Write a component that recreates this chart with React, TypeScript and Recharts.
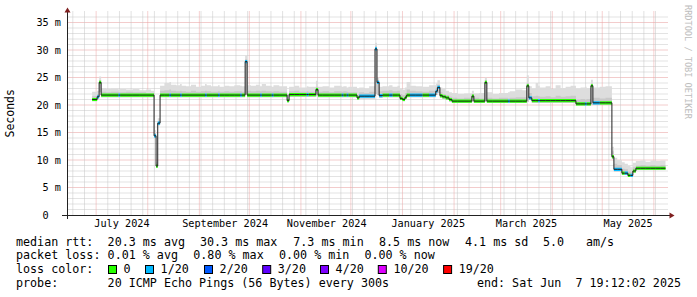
import {
  Area,
  CartesianGrid,
  ComposedChart,
  Line,
  XAxis,
  YAxis,
} from "recharts";

const MONO = "'DejaVu Sans Mono', monospace";

// time axis: days since 1 Jul 2024
const days = [
  -2.4, 0.6, 1.8, 3.0, 6, 9, 13.4, 14.4, 18, 22, 26, 30, 33,
  34.8, 36.0, 37.0, 38.4, 41, 44, 45, 48, 50.4, 51.4, 54, 57, 60, 63, 65.4, 66.4, 69, 73.2, 74.2, 77, 80, 83, 86.5, 87.5,
  89.5, 90.7, 93, 96, 98.5, 99.5, 102, 105.5, 106.5, 110,
  114.7, 115.9, 119, 122, 126.5, 127.5, 132.0, 133.3, 136, 140, 143, 147.5, 148.5, 150.5, 151.5,
  156.7, 158.0, 161, 164, 167.5, 168.7, 170.0, 172, 176, 178, 181, 182.5, 184, 185.5, 186.5, 188.5, 192, 196, 200,
  204, 205, 206.5, 208, 210, 212, 213.7, 217, 221, 225.7, 226.9, 230, 233.5, 234.7, 238, 242, 247.4, 248.4, 252, 256,
  258.7, 259.9, 261.7, 264, 265.5, 266.5, 270, 273, 276, 279, 282, 285,
  288.2, 291, 293.6, 294.6, 297.2, 298.4, 302.5, 306,
  309.8, 311, 313, 315.8, 317.5, 319.4, 321, 322.4, 324.2, 327, 330, 333, 336, 339, 342,
];

// median rtt (ms)
const median = [
  21.0, 21.5, 24.1, 21.8, 21.8, 21.8, 21.8, 21.8, 21.8, 21.8, 21.8, 21.8, 21.8,
  14.4, 8.9, 16.7, 21.8, 21.8, 21.8, 21.8, 21.8, 21.8, 21.8, 21.8, 21.8, 21.8, 21.8, 21.8, 21.8, 21.8, 21.8, 21.8, 21.8, 21.8, 21.8, 21.8, 21.8,
  27.9, 21.8, 21.8, 21.8, 21.8, 21.8, 21.8, 21.8, 21.8, 21.8,
  20.8, 21.9, 21.9, 21.9, 21.9, 21.9, 22.8, 21.8, 21.8, 21.8, 21.8, 21.8, 21.8, 21.8, 21.8,
  21.3, 21.6, 21.6, 21.6, 30.2, 24.1, 21.7, 21.8, 21.8, 21.8, 21.8, 21.2, 21.0, 21.4, 21.8, 21.8, 21.8, 21.8, 21.8,
  22.5, 23.2, 21.7, 21.5, 21.3, 21.0, 20.7, 20.7, 20.7, 21.6, 20.7, 20.7, 24.1, 20.7, 20.7, 20.7, 20.7, 20.7, 20.7, 20.7,
  23.5, 21.3, 20.8, 20.8, 20.8, 20.8, 20.8, 20.8, 20.8, 20.8, 20.8, 20.8,
  20.2, 20.2, 20.2, 20.2, 23.5, 20.4, 20.4, 20.4,
  10.6, 8.3, 8.3, 7.6, 7.6, 7.2, 7.2, 8.0, 8.5, 8.5, 8.5, 8.5, 8.5, 8.5, 8.5,
];

// loss colour index (0 = no loss, 1 = 1/20)
const loss = [
  0, 1, 0, 0, 0, 0, 1, 0, 0, 0, 0, 0, 0,
  1, 0, 1, 0, 0, 1, 0, 0, 1, 0, 0, 0, 0, 0, 1, 0, 0, 1, 0, 0, 0, 0, 1, 0,
  1, 0, 0, 0, 1, 0, 0, 1, 0, 0,
  0, 0, 0, 0, 1, 0, 0, 0, 0, 0, 0, 1, 0, 1, 0,
  0, 1, 1, 1, 1, 1, 1, 0, 1, 0, 0, 0, 0, 0, 0, 1, 1, 0, 1,
  1, 1, 0, 0, 0, 0, 0, 0, 0, 0, 0, 0, 0, 0, 0, 0, 1, 0, 0, 0,
  0, 1, 0, 0, 1, 0, 0, 0, 0, 0, 0, 0,
  0, 0, 1, 0, 0, 1, 0, 0,
  0, 1, 1, 0, 1, 0, 1, 0, 0, 0, 0, 0, 0, 0, 0,
];

// smoke: lowest ping, dense core top, highest ping (ms)
const smokeLow = [
  20.7, 21.1, 22.3, 21.4, 21.4, 21.4, 21.4, 21.4, 21.4, 21.4, 21.4, 21.4, 21.4,
  14.0, 8.6, 16.3, 21.4, 21.4, 21.4, 21.4, 21.4, 21.4, 21.4, 21.4, 21.4, 21.4, 21.4, 21.4, 21.4, 21.4, 21.4, 21.4, 21.4, 21.4, 21.4, 21.4, 21.4,
  22.0, 21.4, 21.4, 21.4, 21.4, 21.4, 21.4, 21.4, 21.4, 21.4,
  20.5, 21.5, 21.5, 21.5, 21.5, 21.5, 21.6, 21.4, 21.4, 21.4, 21.4, 21.4, 21.4, 21.4, 21.4,
  21.0, 21.2, 21.2, 21.2, 22.0, 21.8, 21.3, 21.4, 21.4, 21.4, 21.4, 20.9, 20.7, 21.1, 21.4, 21.4, 21.4, 21.4, 21.4,
  21.8, 22.2, 21.3, 21.1, 20.9, 20.6, 20.4, 20.4, 20.4, 20.6, 20.4, 20.4, 20.6, 20.4, 20.4, 20.4, 20.4, 20.4, 20.4, 20.4,
  20.6, 20.9, 20.4, 20.4, 20.4, 20.4, 20.4, 20.4, 20.4, 20.4, 20.4, 20.4,
  19.9, 19.9, 19.9, 19.9, 20.0, 20.0, 20.0, 20.0,
  10.2, 7.9, 7.9, 7.3, 7.3, 6.9, 6.9, 7.7, 8.2, 8.2, 8.2, 8.2, 8.2, 8.2, 8.2,
];

const smokeMid = [
  21.6, 22.0, 24.5, 22.4, 22.3, 22.4, 22.3, 22.3, 22.4, 22.3, 22.3, 22.2, 22.2,
  14.9, 9.2, 17.1, 22.6, 22.7, 22.8, 22.6, 22.5, 22.6, 22.5, 22.4, 22.6, 22.4, 22.5, 22.6, 22.5, 22.4, 22.5, 22.4, 22.5, 22.4, 22.5, 22.5, 22.4,
  28.3, 22.6, 22.5, 22.6, 22.5, 22.6, 22.5, 22.4, 22.5, 22.4,
  21.3, 22.5, 22.6, 22.4, 22.5, 22.4, 23.3, 22.4, 22.5, 22.3, 22.5, 22.4, 22.5, 22.4, 22.3,
  21.9, 22.3, 22.2, 22.4, 30.7, 24.5, 22.5, 22.6, 22.7, 22.5, 22.6, 22.0, 21.8, 22.2, 22.8, 22.6, 22.5, 22.4, 22.6,
  23.1, 23.7, 22.3, 22.0, 21.8, 21.5, 21.3, 21.2, 21.3, 22.0, 21.3, 21.2, 24.5, 21.3, 21.2, 21.3, 21.2, 21.3, 21.4, 21.4,
  24.0, 22.2, 21.6, 21.7, 21.6, 21.5, 21.6, 21.4, 21.7, 21.5, 21.6, 21.7,
  21.0, 21.1, 21.0, 21.1, 23.9, 21.3, 21.2, 21.3,
  11.6, 9.3, 9.1, 8.4, 8.3, 7.9, 7.8, 8.7, 9.0, 9.1, 9.0, 9.1, 9.0, 9.1, 9.0,
];

const smokeHigh = [
  22.4, 22.6, 25.2, 23.1, 22.9, 23.0, 22.8, 22.9, 22.8, 22.9, 22.7, 22.8, 22.6,
  15.4, 9.6, 17.6, 23.5, 24.0, 24.2, 23.7, 23.6, 23.8, 23.5, 23.4, 23.7, 23.3, 23.5, 23.8, 23.6, 23.4, 23.6, 23.3, 23.5, 23.4, 23.6, 23.5, 23.4,
  29.0, 23.6, 23.5, 23.7, 23.4, 23.8, 23.5, 23.3, 23.6, 23.4,
  22.0, 23.3, 23.5, 23.2, 23.4, 23.3, 24.4, 23.3, 23.4, 23.2, 23.5, 23.3, 23.4, 23.2, 23.3,
  23.0, 23.2, 23.0, 23.4, 31.3, 25.0, 23.3, 23.4, 23.6, 23.3, 23.5, 23.0, 22.8, 23.2, 24.2, 23.5, 23.4, 23.3, 23.6,
  23.9, 24.5, 23.2, 23.0, 22.6, 22.3, 22.2, 22.0, 22.1, 22.6, 22.1, 22.2, 25.0, 22.3, 22.0, 22.2, 22.3, 22.5, 22.8, 22.7,
  25.4, 23.4, 23.0, 24.0, 23.5, 23.2, 23.4, 22.9, 23.6, 23.1, 23.3, 23.5,
  23.0, 23.2, 23.3, 23.1, 24.6, 23.2, 23.3, 23.4,
  12.4, 10.4, 10.0, 9.6, 9.3, 8.9, 8.7, 9.5, 9.8, 9.9, 9.7, 9.9, 9.8, 9.9, 9.8,
];

const lossColors = ["#26ff00", "#00b8ff", "#0059ff", "#5e00ff", "#7e00ff", "#dd00ff", "#ff0000"];
const lossLabels = ["0", "1/20", "2/20", "3/20", "4/20", "10/20", "19/20"];

const monthStarts = [0, 31, 62, 92, 123, 153, 184, 215, 243, 274, 304, 335];
const labelDays = [15.5, 77.5, 138.5, 199.5, 258.5, 319.5];
const monthLabels = ["July 2024", "September 2024", "November 2024", "January 2025", "March 2025", "May 2025"];
const yLabelTicks = [0, 5, 10, 15, 20, 25, 30, 35];

const weekLines: number[] = [];
for (let d = -14; d <= 342; d += 7) if (!monthStarts.includes(d)) weekLines.push(d);
const msLines: number[] = [];
for (let v = 1; v <= 36; v++) if (v % 5 !== 0) msLines.push(v);

const W = 0.29; // half height of the loss colour band

const data = days.map((day, i) => {
  const m = median[i];
  const row: Record<string, unknown> = {
    day,
    median: m,
    smoke: [smokeLow[i], smokeHigh[i]],
    core: [smokeLow[i], smokeMid[i]],
  };
  [0, 1].forEach((k) => {
    row[`band${k}`] = loss[i] === k ? [m - W, m + W] : [m, m];
  });
  return row;
});

const MINOR = "#c4c4c4";
const MAJOR = "#eba4a4";

function YTick(props: any) {
  const { x, y, payload } = props;
  const v = payload.value as number;
  return (
    <text
      x={v === 0 ? x - 12.3 : x}
      y={y}
      dy={3.7}
      textAnchor="end"
      fontFamily={MONO}
      fontSize={10.2}
      fill="#000"
    >
      {v === 0 ? "0" : `${v} m`}
    </text>
  );
}

export default function App() {
  return (
    <div style={{ position: "absolute", left: 0, top: 0, width: 697, height: 297, background: "#fff" }}>
      <ComposedChart
        width={697}
        height={297}
        data={data}
        margin={{ top: 11.5, right: 29, bottom: 62, left: 7 }}
      >
        <XAxis
          type="number"
          dataKey="day"
          domain={[-17.5, 343.5]}
          allowDataOverflow
          ticks={labelDays}
          interval={0}
          tickFormatter={(v) => monthLabels[labelDays.indexOf(v)] ?? ""}
          axisLine={false}
          tickLine={false}
          tickSize={0}
          tickMargin={5}
          height={20}
          tick={{ fontSize: 10.2, fontFamily: MONO, fill: "#000" }}
        />
        <YAxis
          type="number"
          domain={[0, 37]}
          allowDataOverflow
          ticks={yLabelTicks}
          interval={0}
          width={60}
          axisLine={false}
          tickLine={false}
          tickSize={0}
          tickMargin={6}
          tick={<YTick />}
        />
        {/* horizontal grid: solid, light (stands in for rrdtool's dotted lines) */}
        <CartesianGrid vertical={false} horizontalValues={msLines} stroke="#e3e3e3" strokeWidth={1} />
        <CartesianGrid vertical={false} horizontalValues={yLabelTicks.slice(1)} stroke="#f3cccc" strokeWidth={1} />
        {/* vertical grid: dotted */}
        <CartesianGrid horizontal={false} verticalValues={weekLines} stroke={MINOR} strokeDasharray="1 1" />
        <CartesianGrid horizontal={false} verticalValues={monthStarts} stroke={MAJOR} strokeDasharray="1 1" />
        <Area dataKey="smoke" type="stepAfter" fill="#dddddd" fillOpacity={1} stroke="none" isAnimationActive={false} />
        <Area dataKey="core" type="stepAfter" fill="#c9c9c9" fillOpacity={1} stroke="none" isAnimationActive={false} />
        <Line dataKey="median" type="stepAfter" stroke="#202020" strokeWidth={1} dot={false} activeDot={false} isAnimationActive={false} />
        {[0, 1].map((k) => (
          <Area
            key={k}
            dataKey={`band${k}`}
            type="stepAfter"
            fill={lossColors[k]}
            fillOpacity={1}
            stroke="none"
            isAnimationActive={false}
          />
        ))}
      </ComposedChart>
      <svg
        width={697}
        height={297}
        style={{ position: "absolute", left: 0, top: 0, pointerEvents: "none" }}
        fontFamily={MONO}
      >
        {/* axes */}
        <line x1={62} y1={215.5} x2={670} y2={215.5} stroke="#222" />
        <line x1={67.5} y1={219} x2={67.5} y2={12} stroke="#222" />
        <polygon points="67.5,7.5 64.5,12.5 70.5,12.5" fill="#7f1f1f" />
        <polygon points="674.5,215.5 669.5,212.5 669.5,218.5" fill="#7f1f1f" />
        <text x={14.5} y={113.3} transform="rotate(-90 14.5 113.3)" textAnchor="middle" fontSize={11.5} fill="#000">
          Seconds
        </text>
        <text x={685} y={5} transform="rotate(90 685 5)" fontSize={8.6} fill="#bdbdbd">
          RRDTOOL / TOBI OETIKER
        </text>
        <g fontSize={11.7} fill="#000">
          <text x={16} y={245.5}>median rtt:</text>
          <text x={107.6} y={245.5}>20.3 ms avg</text>
          <text x={200} y={245.5}>30.3 ms max</text>
          <text x={293.3} y={245.5}>7.3 ms min</text>
          <text x={379} y={245.5}>8.5 ms now</text>
          <text x={465} y={245.5}>4.1 ms sd</text>
          <text x={543} y={245.5}>5.0</text>
          <text x={586} y={245.5}>am/s</text>

          <text x={16} y={259.4}>packet loss:</text>
          <text x={107.6} y={259.4}>0.01 % avg</text>
          <text x={193.3} y={259.4}>0.80 % max</text>
          <text x={279} y={259.4}>0.00 % min</text>
          <text x={364.4} y={259.4}>0.00 % now</text>

          <text x={16} y={273.3}>loss color:</text>
          {lossLabels.map((lab, i) => {
            const bx = [108, 145, 204, 262.2, 320, 377.8, 443.1][i];
            return (
              <g key={lab}>
                <rect x={bx + 0.5} y={265.5} width={8} height={8} fill={lossColors[i]} stroke="#000" />
                <text x={bx + 15.6} y={273.3}>{lab}</text>
              </g>
            );
          })}

          <text x={16} y={287.2}>probe:</text>
          <text x={107.6} y={287.2}>20 ICMP Echo Pings (56 Bytes) every 300s</text>
          <text x={681} y={287.2} textAnchor="end" xmlSpace="preserve" style={{ whiteSpace: "pre" }}>
            {"end: Sat Jun  7 19:12:02 2025"}
          </text>
        </g>
      </svg>
    </div>
  );
}
